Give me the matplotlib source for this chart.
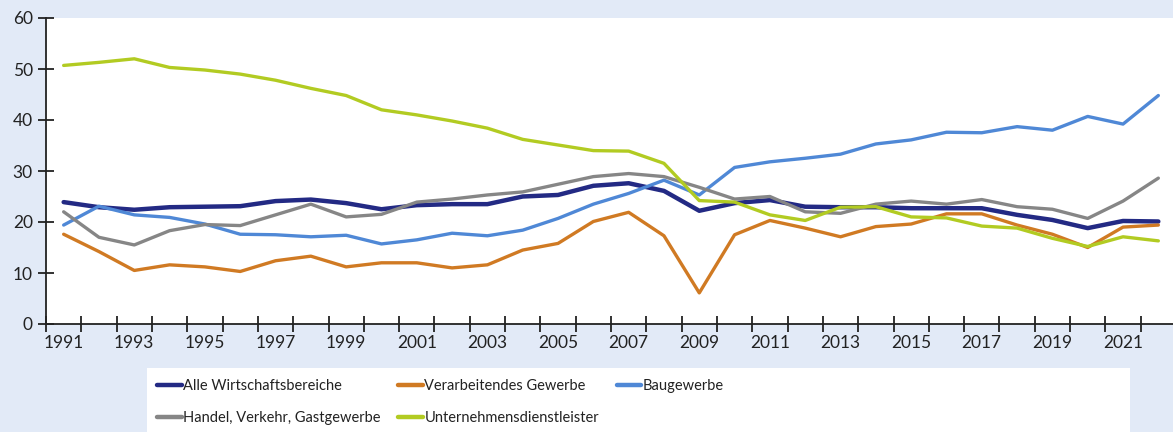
import numpy as np
import matplotlib.pyplot as plt
from matplotlib.patches import Rectangle

plt.rcParams['font.family'] = ['Lato', 'DejaVu Sans']

years = np.arange(1991, 2023)
alle = [23.9, 22.9, 22.4, 22.9, 23.0, 23.1, 24.1, 24.4, 23.7, 22.5,
        23.3, 23.5, 23.5, 25.0, 25.3, 27.1, 27.6, 26.1, 22.2, 23.7,
        24.3, 23.0, 22.9, 22.9, 22.7, 22.7, 22.7, 21.4, 20.4, 18.8,
        20.2, 20.1]
verarb = [17.6, 14.2, 10.5, 11.6, 11.2, 10.3, 12.4, 13.3, 11.2, 12.0,
          12.0, 11.0, 11.6, 14.5, 15.8, 20.1, 21.9, 17.3, 6.1, 17.5,
          20.3, 18.8, 17.1, 19.1, 19.6, 21.6, 21.6, 19.4, 17.6, 15.0,
          19.0, 19.4]
bau = [19.4, 23.1, 21.4, 20.9, 19.6, 17.6, 17.5, 17.1, 17.4, 15.7,
       16.5, 17.8, 17.3, 18.4, 20.7, 23.5, 25.6, 28.2, 25.3, 30.7,
       31.8, 32.5, 33.3, 35.3, 36.1, 37.6, 37.5, 38.7, 38.0, 40.7,
       39.2, 44.8]
handel = [22.0, 17.0, 15.5, 18.3, 19.5, 19.3, 21.4, 23.5, 21.0, 21.5,
          23.9, 24.5, 25.3, 25.9, 27.4, 28.9, 29.5, 28.9, 26.8, 24.5,
          25.0, 22.0, 21.7, 23.5, 24.1, 23.5, 24.4, 23.0, 22.5, 20.7,
          24.1, 28.6]
unternehmen = [50.7, 51.3, 52.0, 50.3, 49.8, 49.0, 47.8, 46.2, 44.8, 42.0,
               41.0, 39.8, 38.4, 36.2, 35.1, 34.0, 33.9, 31.5, 24.2, 23.9,
               21.4, 20.3, 22.9, 23.0, 21.0, 20.8, 19.2, 18.8, 16.8, 15.2,
               17.1, 16.3]

series = [
    ("Alle Wirtschaftsbereiche", alle, '#232a84', 3.2),
    ("Verarbeitendes Gewerbe", verarb, '#d07a23', 2.4),
    ("Baugewerbe", bau, '#4f88d6', 2.4),
    ("Handel, Verkehr, Gastgewerbe", handel, '#868686', 2.4),
    ("Unternehmensdienstleister", unternehmen, '#b2cb22', 2.4),
]

bg = '#e2eaf7'
txt = '#222222'

fig = plt.figure(figsize=(11.73, 4.32), dpi=100, facecolor=bg)
ax = fig.add_axes([46 / 1173, 0.25, (1176 - 46) / 1173, 306 / 432])
ax.set_facecolor('white')

lines = []
for name, vals, col, lw in series:
    ln, = ax.plot(years, vals, color=col, lw=lw, label=name,
                  solid_capstyle='round', solid_joinstyle='round')
    lines.append(ln)

ax.set_xlim(1990.5, 2022.5)
ax.set_ylim(0, 60)
ax.set_yticks(range(0, 61, 10))
ax.set_xticks(np.arange(1990.5, 2023, 1))
ax.set_xticklabels([])
ax.set_xticks(np.arange(1991, 2023, 2), minor=True)
ax.set_xticklabels([str(y) for y in range(1991, 2023, 2)], minor=True)
ax.tick_params(axis='x', which='major', direction='inout', length=11, width=1.3, color='#222222')
ax.tick_params(axis='x', which='minor', length=0, pad=8, labelsize=12.5, labelcolor=txt)
ax.tick_params(axis='y', direction='inout', length=11, width=1.3, color='#222222',
               labelsize=12.5, labelcolor=txt, pad=4)
for s in ['top', 'right']:
    ax.spines[s].set_visible(False)
for s in ['left', 'bottom']:
    ax.spines[s].set_linewidth(1.3)
    ax.spines[s].set_color('#222222')

fig.patches.append(Rectangle((147 / 1173, 0), 983 / 1173, 64 / 432,
                             transform=fig.transFigure, facecolor='white',
                             edgecolor='none', zorder=0))
# row-wise order: column-major fill of 3 columns
order = [0, 3, 1, 4, 2]
leg = fig.legend([lines[i] for i in order], [series[i][0] for i in order],
                 loc='upper left', bbox_to_anchor=(157 / 1173, 53 / 432), ncol=3,
                 frameon=False, prop={'family': ['Lato', 'DejaVu Sans'], 'size': 10.5},
                 handlelength=1.7, handletextpad=0.1, borderpad=0,
                 columnspacing=1.2, labelspacing=1.25, borderaxespad=0)
for t in leg.get_texts():
    t.set_color(txt)
for h in leg.legend_handles:
    h.set_linewidth(3.2)

fig.savefig('out.png', dpi=100, facecolor=bg)
